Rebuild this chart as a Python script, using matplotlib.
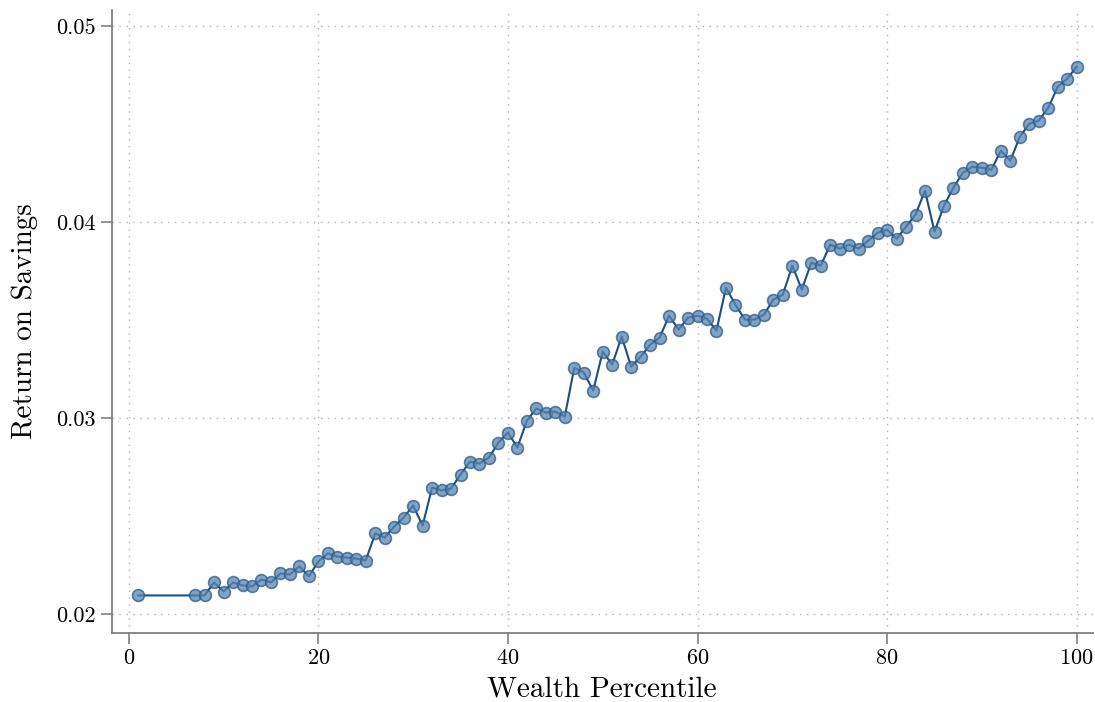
import numpy as np
import matplotlib
matplotlib.use("Agg")
import matplotlib.pyplot as plt

plt.rcParams["font.family"] = "cmr10"
plt.rcParams["axes.formatter.use_mathtext"] = True
plt.rcParams["mathtext.fontset"] = "cm"

# wealth percentiles (2-6 missing in the source)
percentile = [1] + list(range(7, 101))

# return on savings by percentile
ret = [
    0.02097,
    0.02097, 0.02097, 0.02163, 0.02117, 0.02163, 0.02148, 0.02143, 0.02178,
    0.02163, 0.02209, 0.02204, 0.02245, 0.02194, 0.02270, 0.02311, 0.02295,
    0.02290, 0.02285, 0.02275, 0.02413, 0.02392, 0.02448, 0.02494, 0.02555,
    0.02453, 0.02647, 0.02632, 0.02642, 0.02713, 0.02779, 0.02769, 0.02800,
    0.02876, 0.02927, 0.02851, 0.02988, 0.03050, 0.03029, 0.03034, 0.03009,
    0.03258, 0.03233, 0.03141, 0.03340, 0.03274, 0.03416, 0.03263, 0.03314,
    0.03375, 0.03411, 0.03523, 0.03452, 0.03513, 0.03523, 0.03508, 0.03447,
    0.03666, 0.03579, 0.03503, 0.03503, 0.03528, 0.03605, 0.03630, 0.03778,
    0.03656, 0.03793, 0.03778, 0.03885, 0.03865, 0.03885, 0.03865, 0.03905,
    0.03946, 0.03961, 0.03915, 0.03977, 0.04038, 0.04160, 0.03951, 0.04084,
    0.04176, 0.04252, 0.04282, 0.04277, 0.04267, 0.04364, 0.04313, 0.04435,
    0.04501, 0.04517, 0.04583, 0.04690, 0.04731, 0.04792,
]

fig = plt.figure(figsize=(10.95, 7.02), dpi=100)
ax = fig.add_axes([0.102, 0.099, 0.896, 0.887])

ax.plot(percentile, ret, color="#1d4f80", lw=1.5, zorder=3)
ax.plot(percentile, ret, "o", ms=8.5, mfc="#5a85b0", mec="#2a5a8a", mew=1.2,
        alpha=0.75, zorder=4)

ax.set_xlim(-1.8, 101.7)
ax.set_ylim(0.01908, 0.05082)
ax.set_xticks([0, 20, 40, 60, 80, 100])
ax.set_yticks([0.02, 0.03, 0.04, 0.05])
ax.set_yticklabels(["0.02", "0.03", "0.04", "0.05"])

ax.grid(True, linestyle=(0, (1, 4)), color="#b0b0b0", lw=1.0)
for s in ["top", "right"]:
    ax.spines[s].set_visible(False)
for s in ["left", "bottom"]:
    ax.spines[s].set_color("#808080")
    ax.spines[s].set_linewidth(1.3)
ax.tick_params(colors="#808080", labelcolor="black", labelsize=16,
               length=8, width=1.2)

ax.set_xlabel("Wealth Percentile", fontsize=21, labelpad=6)
ax.set_ylabel("Return on Savings", fontsize=21, labelpad=13)

fig.savefig("out.png", dpi=100)
